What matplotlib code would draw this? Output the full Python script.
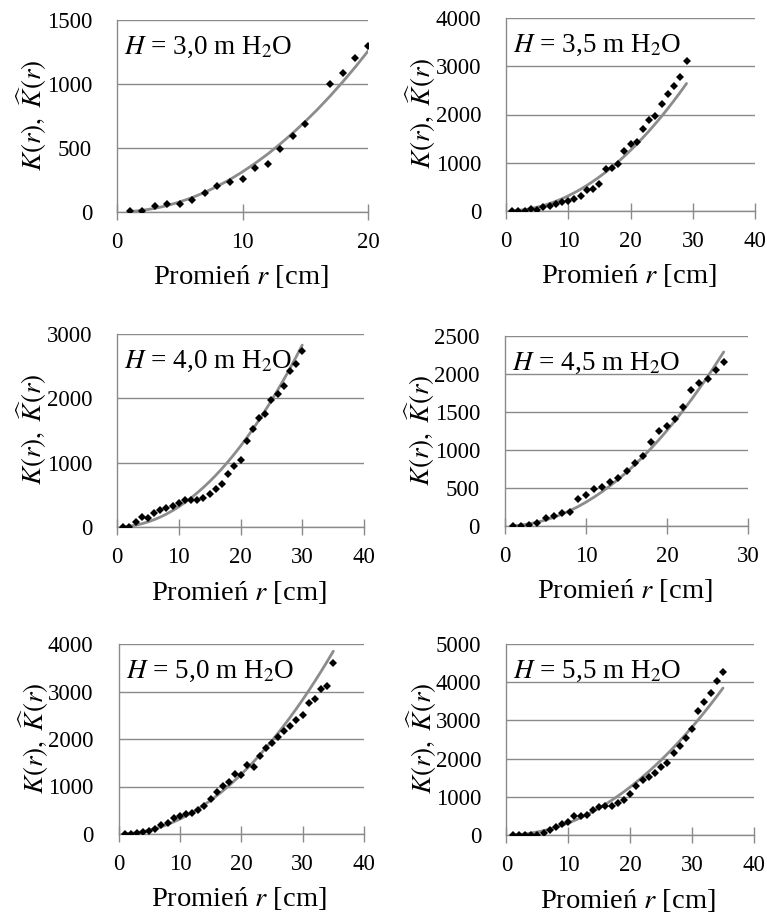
import matplotlib
matplotlib.use('Agg')
import matplotlib.pyplot as plt

plt.rcParams['font.family'] = ['Liberation Serif', 'DejaVu Serif']
plt.rcParams['mathtext.fontset'] = 'stix'

# ---- data ----
# grey theoretical curve K(r), common to all panels, r = 1..35 cm
r_theory = list(range(1, 36))
k_theory = [3, 13, 28, 50, 79, 113, 154, 201, 254, 314, 380, 452, 531, 616, 707,
            804, 908, 1018, 1134, 1257, 1385, 1521, 1662, 1810, 1963, 2124, 2290,
            2463, 2642, 2827, 3019, 3217, 3421, 3632, 3848]

titles = ['3,0', '3,5', '4,0', '4,5', '5,0', '5,5']

r_30 = list(range(1, 16)) + [17, 18, 19, 20]
k_30 = [10, 10, 50, 60, 65, 90, 150, 205, 235, 255, 340, 375, 495, 595, 685,
        1000, 1085, 1200, 1295]

r_35 = list(range(1, 30))
k_35 = [5, 5, 10, 35, 25, 87, 99, 149, 182, 203, 253, 306, 430, 459, 569, 874,
        894, 983, 1238, 1398, 1424, 1702, 1880, 1977, 2226, 2432, 2584, 2779, 3101]

r_40 = list(range(1, 31))
k_40 = [5, 5, 83, 155, 145, 218, 259, 290, 321, 373, 415, 425, 425, 456, 518,
        591, 668, 829, 943, 1047, 1342, 1528, 1689, 1756, 1979, 2072, 2196, 2419,
        2538, 2740]

r_45 = list(range(1, 28))
k_45 = [5, 5, 10, 35, 106, 132, 167, 185, 357, 414, 485, 511, 573, 634, 718, 828,
        916, 1101, 1247, 1313, 1410, 1568, 1784, 1877, 1929, 2053, 2158]

r_50 = list(range(1, 36))
k_50 = [5, 5, 14, 35, 56, 105, 189, 225, 330, 379, 414, 449, 505, 590, 730, 877,
        1011, 1088, 1263, 1246, 1457, 1421, 1646, 1808, 1914, 2032, 2158, 2278,
        2390, 2509, 2756, 2840, 3051, 3120, 3598]

r_55 = list(range(1, 36))
k_55 = [5, 5, 5, 5, 10, 60, 130, 215, 275, 350, 500, 505, 530, 660, 745, 765,
        770, 850, 915, 1065, 1270, 1445, 1520, 1620, 1790, 1880, 2157, 2340, 2533,
        2768, 3245, 3473, 3723, 4037, 4264]

x_maxes = [20, 40, 40, 30, 40, 40]
x_steps = [10, 10, 10, 10, 10, 10]
y_maxes = [1500, 4000, 3000, 2500, 4000, 5000]
y_steps = [500, 1000, 1000, 500, 1000, 1000]

series_r = [r_30, r_35, r_40, r_45, r_50, r_55]
series_k = [k_30, k_35, k_40, k_45, k_50, k_55]

# ---- layout (pixels) ----
W, H = 767, 916
rects = [(117, 368, 20, 212), (506, 755, 18, 211),
         (117, 364, 334, 527), (505, 748, 336, 526),
         (118.5, 364, 644, 834), (506.4, 754, 644, 835)]

fig = plt.figure(figsize=(W / 100, H / 100), dpi=100)
fig.patch.set_facecolor('white')

grid_c = '#8a8a8a'

for i in range(6):
    l, r, t, b = rects[i]
    ax = fig.add_axes([l / W, 1 - b / H, (r - l) / W, (b - t) / H])
    rr, kk = series_r[i], series_k[i]
    rmax = max(rr)
    rt = [v for v in r_theory if v <= rmax]
    kt = k_theory[:len(rt)]
    ax.plot(rt, kt, color='#8c8c8c', lw=2.0, zorder=2, solid_capstyle='round')
    ax.plot(rr, kk, linestyle='none', marker='D', ms=4.4, color='black',
            markeredgewidth=0, zorder=3)
    ax.set_xlim(0, x_maxes[i])
    ax.set_ylim(0, y_maxes[i])
    ax.set_xticks(range(0, x_maxes[i] + 1, x_steps[i]))
    ax.set_yticks(range(0, y_maxes[i] + 1, y_steps[i]))
    ax.grid(axis='y', color=grid_c, lw=1.0)
    ax.set_axisbelow(True)
    for s in ['top', 'right']:
        ax.spines[s].set_visible(False)
    for s in ['left', 'bottom']:
        ax.spines[s].set_color(grid_c)
        ax.spines[s].set_linewidth(1.0)
    ax.tick_params(axis='x', direction='inout', length=11, width=1.0,
                   color=grid_c, labelsize=16.5, pad=9)
    ax.tick_params(axis='y', length=0, labelsize=16.5, pad=18)
    for lab in ax.get_xticklabels() + ax.get_yticklabels():
        lab.set_color('black')
    ax.text(7 / (r - l), 1 - 27 / (b - t),
            '$H$ = ' + titles[i] + ' m H$_2$O', transform=ax.transAxes,
            fontsize=19.5, ha='left', va='center')
    fig.text(((l + r) / 2 - 2) / W, 1 - (b + 65) / H, 'Promień $r$ [cm]',
             fontsize=20.5, ha='center', va='center')
    fig.text((l - 85) / W, 1 - ((t + b) / 2 - 1) / H,
             r'$K(r),\ \widehat{K}(r)$', fontsize=19.5, rotation=90,
             ha='center', va='center')

fig.savefig('out.png', dpi=100, facecolor='white')
